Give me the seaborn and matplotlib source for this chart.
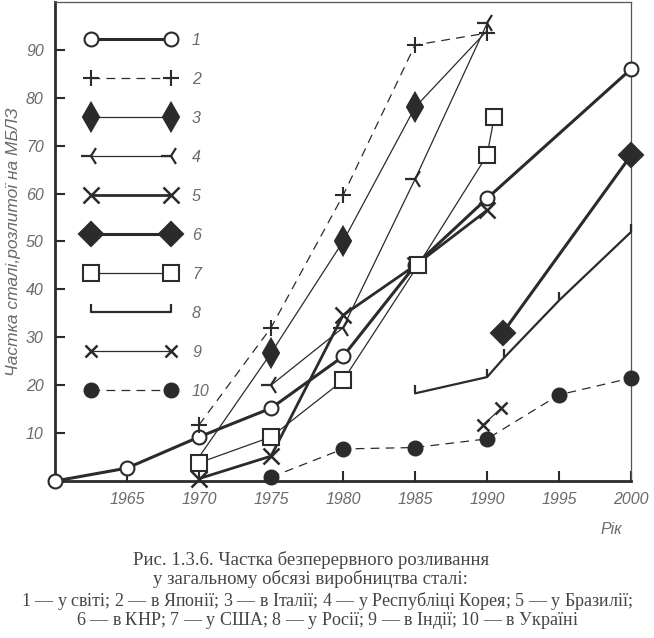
import numpy as np
import pandas as pd
import seaborn as sns
import matplotlib.pyplot as plt
from matplotlib.lines import Line2D

# dados (ano, % de lingotamento continuo)
anos_1 = [1960, 1965, 1970, 1975, 1980, 1985, 1990, 2000]
vals_1 = [0, 2.7, 9.2, 15.2, 26, 45, 59, 86]
anos_2 = [1970, 1975, 1980, 1985, 1990]
vals_2 = [11.7, 32, 59.6, 91, 93.5]
anos_3 = [1970, 1975, 1980, 1985, 1990]
vals_3 = [5, 26.7, 50, 78, 94]
anos_4 = [1975, 1980, 1985, 1990]
vals_4 = [20, 32, 63, 95.5]
anos_5 = [1970, 1975, 1980, 1985, 1990]
vals_5 = [0.5, 5.2, 34.6, 45, 56.5]
anos_6 = [1991.1, 2000]
vals_6 = [31, 68]
anos_7 = [1970, 1975, 1980, 1985.2, 1990, 1990.5]
vals_7 = [3.8, 9.2, 21, 45, 68, 76]
anos_8 = [1985, 1990, 1991.2, 1995, 2000]
vals_8 = [18.3, 21.7, 25.8, 37.7, 52]
anos_9 = [1989.7, 1991]
vals_9 = [11.7, 15.2]
anos_10 = [1975, 1980, 1985, 1990, 1995, 2000]
vals_10 = [0.8, 6.7, 7, 8.8, 18, 21.5]

rotulos = ['1', '2', '3', '4', '5', '6', '7', '8', '9', '10']

cor = '#2b2b2b'
cinza = '#6a6a6a'

estilos = [
    dict(marker='o', ms=10, lw=2.2, mfc='white', ls='-'),
    dict(marker='+', ms=11, lw=0.9, mfc=cor, ls=(0, (7, 5))),
    dict(marker='d', ms=14, lw=0.9, mfc=cor, ls='-', every=[1, 2, 3]),
    dict(marker='3', ms=14, lw=0.9, mfc=cor, ls='-', mew=1.6),
    dict(marker='x', ms=12, lw=2.0, mfc=cor, ls='-', mew=1.8),
    dict(marker='D', ms=12, lw=2.2, mfc=cor, ls='-'),
    dict(marker='s', ms=11, lw=0.9, mfc='white', ls='-'),
    dict(marker=2, ms=6, lw=1.6, mfc=cor, ls='-', mew=1.6),
    dict(marker='x', ms=9, lw=0.9, mfc=cor, ls='-', mew=1.8),
    dict(marker='o', ms=10, lw=0.9, mfc=cor, ls=(0, (7, 5))),
]

series = [(anos_1, vals_1), (anos_2, vals_2), (anos_3, vals_3), (anos_4, vals_4),
          (anos_5, vals_5), (anos_6, vals_6), (anos_7, vals_7), (anos_8, vals_8),
          (anos_9, vals_9), (anos_10, vals_10)]

sns.set_style('ticks')
plt.rcParams['font.family'] = ['Liberation Sans', 'DejaVu Sans']
plt.rcParams['mathtext.fontset'] = 'custom'
plt.rcParams['mathtext.it'] = 'Liberation Serif:italic'
plt.rcParams['mathtext.rm'] = 'Liberation Serif'

fig = plt.figure(figsize=(6.54, 6.38), dpi=100)
ax = fig.add_axes([0.084, 0.246, 0.881, 0.751])

handles = []
for (x, y), st, rot in zip(series, estilos, rotulos):
    df = pd.DataFrame({'ano': x, 'valor': y})
    mew = st.get('mew', 1.5)
    sns.lineplot(data=df, x='ano', y='valor', ax=ax, color=cor,
                 linewidth=st['lw'], linestyle=st['ls'], marker=st['marker'],
                 markersize=st['ms'], markerfacecolor=st['mfc'],
                 markeredgecolor=cor, markeredgewidth=mew, clip_on=False,
                 markevery=st.get('every'), zorder=3)
    handles.append(Line2D([], [], color=cor, linewidth=st['lw'], linestyle=st['ls'],
                          marker=st['marker'], markersize=st['ms'],
                          markerfacecolor=st['mfc'], markeredgecolor=cor,
                          markeredgewidth=mew))

ax.set_xlim(1960, 2000)
ax.set_ylim(0, 100)
ax.set_xticks([1965, 1970, 1975, 1980, 1985, 1990, 1995, 2000])
ax.set_yticks([10, 20, 30, 40, 50, 60, 70, 80, 90])
ax.tick_params(direction='in', length=7, width=1.5, color=cor,
               labelsize=11.5, labelcolor=cinza, pad=8)
for t in ax.get_xticklabels() + ax.get_yticklabels():
    t.set_style('italic')

for lado in ['left', 'bottom']:
    ax.spines[lado].set_linewidth(2.0)
    ax.spines[lado].set_color(cor)
for lado in ['top', 'right']:
    ax.spines[lado].set_linewidth(0.9)
    ax.spines[lado].set_color('#555555')

ax.set_xlabel('')
ax.set_ylabel('Частка сталі,розлитої на МБЛЗ', fontsize=12.5, style='italic',
              color=cinza, labelpad=4)

leg = ax.legend(handles, rotulos, loc='upper left', bbox_to_anchor=(0.03, 0.965),
                frameon=False, numpoints=2, handlelength=5.6, handletextpad=1.0,
                labelspacing=1.5, prop={'style': 'italic', 'size': 11.5})
for t in leg.get_texts():
    t.set_color(cinza)

fig.text(0.935, 0.163, 'Рік', fontsize=11.5, style='italic', color=cinza, ha='center')

serif = ['Liberation Serif', 'DejaVu Serif']
fig.text(0.475, 0.115, 'Рис. 1.3.6. Частка безперервного розливання',
         fontsize=13.5, family=serif, color='#444444', ha='center')
fig.text(0.475, 0.085, 'у загальному обсязі виробництва сталі:',
         fontsize=13.5, family=serif, color='#444444', ha='center')
fig.text(0.5, 0.050,
         r'$\mathit{1}$ — у світі; $\mathit{2}$ — в Японії; $\mathit{3}$ — в Італії; '
         r'$\mathit{4}$ — у Республіці Корея; $\mathit{5}$ — у Бразилії;',
         fontsize=13, family=serif, color='#444444', ha='center')
fig.text(0.5, 0.020,
         r'$\mathit{6}$ — в КНР; $\mathit{7}$ — у США; $\mathit{8}$ — у Росії; '
         r'$\mathit{9}$ — в Індії; $\mathit{10}$ — в Україні',
         fontsize=13, family=serif, color='#444444', ha='center')

fig.savefig('out.png', dpi=100)
